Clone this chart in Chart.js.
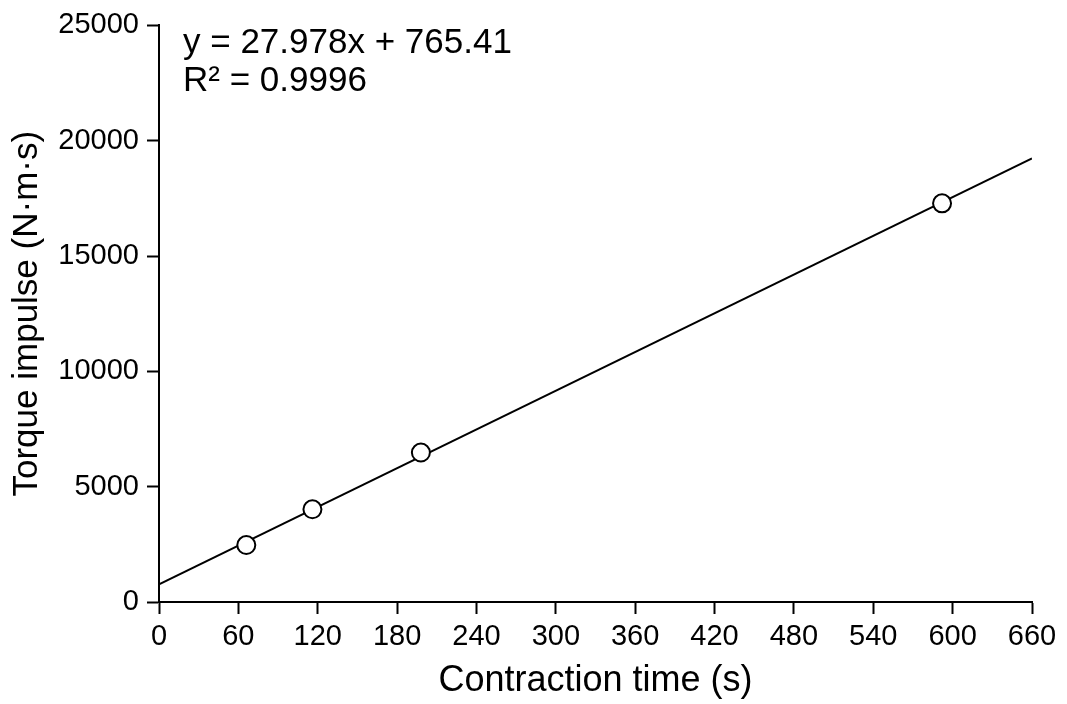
<!DOCTYPE html>
<html>
<head>
<meta charset="utf-8">
<title>Torque impulse vs contraction time</title>
<script src="https://cdn.jsdelivr.net/npm/chart.js@4/dist/chart.umd.min.js"></script>
<style>
  html, body { margin: 0; padding: 0; background: #ffffff; }
  #wrap { width: 1067px; height: 704px; }
  canvas { display: block; }
</style>
</head>
<body>
<div id="wrap"><canvas id="chart" width="1067" height="704"></canvas></div>
<script>
// Measured contraction trials
const contractionTime = [66, 116, 198, 592];          // s
const torqueImpulse   = [2470, 4020, 6480, 17285];    // N·m·s

// Linear fit reported for the trials
const fitSlope = 27.978;
const fitIntercept = 765.41;
const fitR2 = 0.9996;
const fitRange = [0, 660];

// Axis ticks
const xTicks = [0, 60, 120, 180, 240, 300, 360, 420, 480, 540, 600, 660];
const yTicks = [0, 5000, 10000, 15000, 20000, 25000];

const FONT = "'Liberation Sans', Arial, 'DejaVu Sans', sans-serif";

const points = contractionTime.map((t, i) => ({ x: t, y: torqueImpulse[i] }));
const fitLine = fitRange.map(t => ({ x: t, y: fitSlope * t + fitIntercept }));

// Regression equation printed in the upper-left corner of the plot
const equationLabel = {
  id: 'equationLabel',
  afterDraw(chart) {
    const { ctx, chartArea } = chart;
    ctx.save();
    ctx.fillStyle = '#000';
    ctx.font = `35px ${FONT}`;
    ctx.textAlign = 'left';
    ctx.textBaseline = 'alphabetic';
    const x = chartArea.left + 24;
    ctx.fillText(`y = ${fitSlope}x + ${fitIntercept}`, x, chartArea.top + 28);
    ctx.fillText(`R² = ${fitR2}`, x, chartArea.top + 66);
    ctx.restore();
  }
};

const axisCommon = {
  type: 'linear',
  grid: {
    display: true,
    drawOnChartArea: false,
    drawTicks: true,
    tickLength: 12,
    tickWidth: 2,
    tickColor: '#000'
  },
  border: { display: true, color: '#000', width: 2 }
};

new Chart(document.getElementById('chart'), {
  type: 'scatter',
  data: {
    datasets: [
      {
        label: 'Trials',
        data: points,
        pointRadius: 9,
        pointHoverRadius: 9,
        pointBackgroundColor: '#ffffff',
        pointBorderColor: '#000000',
        pointBorderWidth: 2,
        showLine: false
      },
      {
        label: 'Linear fit',
        type: 'line',
        data: fitLine,
        borderColor: '#000000',
        borderWidth: 2,
        pointRadius: 0,
        fill: false,
        tension: 0
      }
    ]
  },
  options: {
    responsive: false,
    animation: false,
    devicePixelRatio: 1,
    layout: { padding: { top: 21, right: 35, bottom: 0, left: 0 } },
    plugins: {
      legend: { display: false },
      tooltip: { enabled: false }
    },
    scales: {
      x: {
        ...axisCommon,
        min: fitRange[0],
        max: fitRange[1],
        afterBuildTicks(scale) { scale.ticks = xTicks.map(v => ({ value: v })); },
        afterFit(scale) { scale.height = 102; },
        ticks: {
          color: '#000',
          font: { family: FONT, size: 29 },
          padding: 6,
          maxRotation: 0,
          autoSkip: false
        },
        title: {
          display: true,
          text: 'Contraction time (s)',
          color: '#000',
          font: { family: FONT, size: 36 },
          padding: { top: 0, bottom: 1 }
        }
      },
      y: {
        ...axisCommon,
        min: 0,
        max: 25000,
        afterBuildTicks(scale) { scale.ticks = yTicks.map(v => ({ value: v })); },
        afterFit(scale) { scale.width = 159; },
        ticks: {
          color: '#000',
          font: { family: FONT, size: 29 },
          padding: 8,
          autoSkip: false,
          callback: v => String(v)
        },
        title: {
          display: true,
          text: 'Torque impulse (N·m·s)',
          color: '#000',
          font: { family: FONT, size: 35 },
          padding: { top: 6, bottom: 0 }
        }
      }
    }
  },
  plugins: [equationLabel]
});
</script>
</body>
</html>
